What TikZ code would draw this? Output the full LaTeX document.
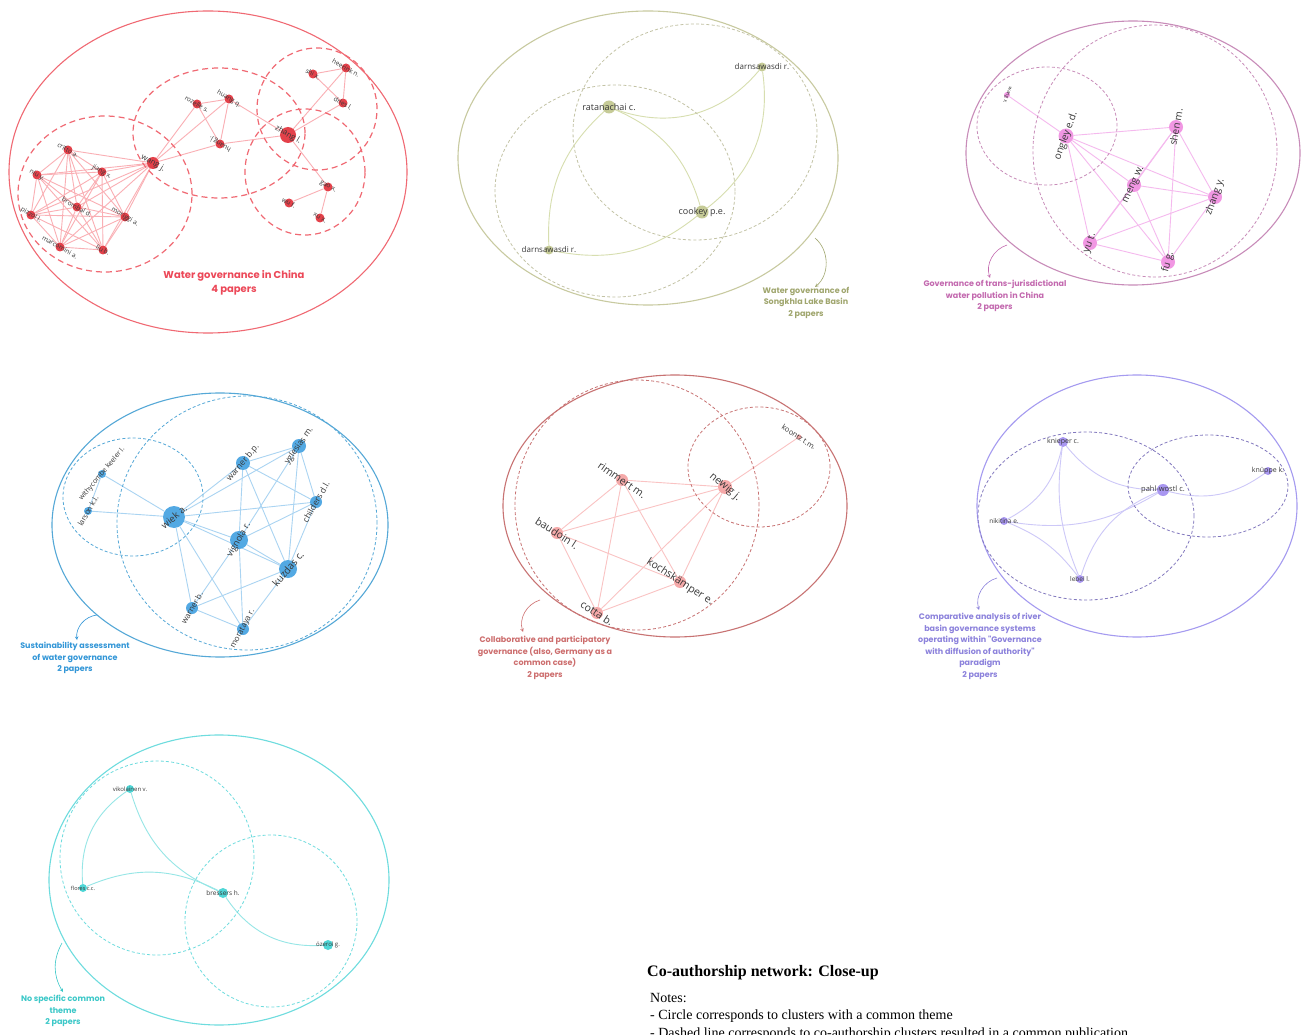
\documentclass[tikz,border=0pt]{standalone}
\usepackage{fontspec}
\setmainfont{Liberation Serif}
\setsansfont{Open Sans}
\newfontfamily\capfont{Poppins}
\usetikzlibrary{arrows}

\definecolor{redTheme}{RGB}{240,105,115}
\definecolor{redNode}{RGB}{226,45,55}
\definecolor{redEdge}{RGB}{250,175,180}
\definecolor{redText}{RGB}{236,72,88}
\definecolor{oliveTheme}{RGB}{200,202,160}
\definecolor{oliveDash}{RGB}{195,195,165}
\definecolor{oliveNode}{RGB}{192,198,140}
\definecolor{oliveEdge}{RGB}{215,222,175}
\definecolor{oliveText}{RGB}{160,166,110}
\definecolor{pinkTheme}{RGB}{200,140,185}
\definecolor{pinkNode}{RGB}{240,140,225}
\definecolor{pinkEdge}{RGB}{245,185,238}
\definecolor{pinkText}{RGB}{195,105,175}
\definecolor{blueTheme}{RGB}{85,168,215}
\definecolor{blueNode}{RGB}{65,160,225}
\definecolor{blueEdge}{RGB}{170,212,242}
\definecolor{blueText}{RGB}{50,150,215}
\definecolor{roseTheme}{RGB}{200,115,115}
\definecolor{roseNode}{RGB}{245,160,160}
\definecolor{roseEdge}{RGB}{250,195,195}
\definecolor{roseText}{RGB}{205,110,110}
\definecolor{violetTheme}{RGB}{165,155,240}
\definecolor{violetDash}{RGB}{130,120,190}
\definecolor{violetNode}{RGB}{160,140,240}
\definecolor{violetEdge}{RGB}{205,200,248}
\definecolor{violetText}{RGB}{140,130,220}
\definecolor{cyanTheme}{RGB}{110,220,222}
\definecolor{cyanNode}{RGB}{60,210,210}
\definecolor{cyanEdge}{RGB}{150,230,230}
\definecolor{cyanText}{RGB}{60,200,200}

\pgfdeclarelayer{paper}
\pgfdeclarelayer{edges}
\pgfsetlayers{paper,edges,main}

\tikzset{
	aunode/.style={circle, inner sep=0pt, minimum size=#1, draw=none, fill opacity=0.9},
	aulabel/.style={text=black!78, inner sep=0pt},
}
\newcommand\fs[1]{\fontsize{#1}{#1}\selectfont}
% name, position, size, colour, angle, font size, text
\newcommand\au[7]{%
	\node[aunode=#3pt, fill=#4] (#1) at (#2) {};
	\node[aulabel, rotate=#5] (#1-t) at (#2) {\sffamily\fs{#6}#7};}

\begin{document}
\begin{tikzpicture}[x=1pt, y=-1pt,
	themering/.style={line width=1.1pt},
	paperring/.style={line width=0.8pt, dash pattern=on 3pt off 2.2pt},
	coauth/.style={line width=0.9pt},
	capnote/.style={align=center, anchor=north, inner sep=0pt, font=\capfont\bfseries\fontsize{8}{11.5}\selectfont},
	pointer/.style={-stealth, line width=0.6pt}]
	\begin{pgfonlayer}{paper}
	\fill[white] (0,0) rectangle (1310,1035);
	\end{pgfonlayer}
	\clip (0,0) rectangle (1310,1035);

	% water governance in China
	\draw[themering, redTheme] (208,172) ellipse [x radius=199pt, y radius=161pt];
	\draw[redTheme, line width=1.2pt, dash pattern=on 6pt off 4pt] (105,194) ellipse [x radius=87pt, y radius=78pt];
	\draw[redTheme, line width=1.2pt, dash pattern=on 6pt off 4pt] (219,133) ellipse [x radius=86pt, y radius=65pt];
	\draw[redTheme, line width=1.2pt, dash pattern=on 6pt off 4pt] (317,109) ellipse [x radius=60pt, y radius=61pt];
	\draw[redTheme, line width=1.2pt, dash pattern=on 6pt off 4pt] (305,172) ellipse [x radius=60pt, y radius=63pt];
	\au{critto}{68,150}{9}{redNode}{-30}{6.5}{critto a.}
	\au{niu}{37,175}{9}{redNode}{-30}{6.5}{niu y.}
	\au{jiang}{102,172}{9}{redNode}{-30}{6.5}{jiang x.}
	\au{brombal}{77,207}{9}{redNode}{-30}{6.5}{brombal d.}
	\au{moriggi}{125,217}{9}{redNode}{-30}{6.5}{moriggi a.}
	\au{pizzol}{31,215}{9}{redNode}{-30}{6.5}{pizzol l.}
	\au{marcomini}{60,247}{9}{redNode}{-30}{6.5}{marcomini a.}
	\au{liub}{103,250}{9}{redNode}{-30}{6.5}{liu b.}
	\au{wangj}{153,163}{12}{redNode}{-30}{8}{wang j.}
	\au{rozelle}{197,104}{9}{redNode}{-30}{6.5}{rozelle s.}
	\au{huangq}{229,99}{9}{redNode}{-30}{6.5}{huang q.}
	\au{huangj}{220,144}{9}{redNode}{150}{6.5}{huang j.}
	\au{zhangl}{288,135}{16}{redNode}{-30}{8}{zhang l.}
	\au{heerink}{346,68}{9}{redNode}{-30}{6.5}{heerink n.}
	\au{shix}{313,74}{9}{redNode}{-30}{6.5}{shi x.}
	\au{dries}{343,103}{9}{redNode}{-30}{6.5}{dries l.}
	\au{gaox}{328,187}{9}{redNode}{-30}{6.5}{gao x.}
	\au{wuf}{289,203}{9}{redNode}{-30}{6.5}{wu f.}
	\au{xux}{320,218}{9}{redNode}{-30}{6.5}{xu x.}
	\begin{pgfonlayer}{edges}
	\foreach \a [count=\i] in {wangj,critto,niu,jiang,brombal,moriggi,pizzol,marcomini,liub}
		\foreach \b [count=\j] in {wangj,critto,niu,jiang,brombal,moriggi,pizzol,marcomini,liub}
			{\ifnum\j>\i \draw[coauth, redEdge] (\a) -- (\b); \fi}
	\foreach \a/\b in {wangj/rozelle, wangj/huangq, wangj/huangj, rozelle/huangq, rozelle/huangj,
		huangq/huangj, huangq/zhangl, huangj/zhangl, zhangl/heerink, zhangl/dries, shix/heerink,
		shix/dries, heerink/dries, zhangl/gaox, gaox/wuf, gaox/xux}
		\draw[coauth, redEdge] (\a) -- (\b);
	\end{pgfonlayer}
	\node[align=center, inner sep=0pt, text=redText, font=\capfont\bfseries\fontsize{10}{14}\selectfont] (china-cap) at (234,283) {Water governance in China\\4 papers};

	% Songkhla Lake Basin
	\draw[themering, oliveTheme] (648,158) ellipse [x radius=190pt, y radius=147pt];
	\draw[paperring, oliveDash] (695,132) ellipse [x radius=122pt, y radius=108pt];
	\draw[paperring, oliveDash] (615,191) ellipse [x radius=120pt, y radius=106pt];
	\au{ratanachai}{609,107}{13}{oliveNode}{0}{9}{ratanachai c.}
	\au{cookey}{702,212}{13}{oliveNode}{0}{9}{cookey p.e.}
	\au{darnA}{762,67}{9}{oliveNode}{0}{8}{darnsawasdi r.}
	\au{darnB}{549,250}{9}{oliveNode}{0}{8}{darnsawasdi r.}
	\begin{pgfonlayer}{edges}
	\draw[coauth, oliveEdge] (ratanachai) to[bend right=35] (darnA);
	\draw[coauth, oliveEdge] (ratanachai) to[bend right=25] (darnB);
	\draw[coauth, oliveEdge] (ratanachai) to[bend left=25] (cookey);
	\draw[coauth, oliveEdge] (cookey) to[bend right=30] (darnA);
	\draw[coauth, oliveEdge] (cookey) to[bend left=25] (darnB);
	\end{pgfonlayer}
	\coordinate (songkhla-from) at (815,238);
	\node[capnote, text=oliveText] (songkhla-cap) at (806,287) {Water governance of\\Songkhla Lake Basin\\2 papers};
	\draw[pointer, oliveText] (songkhla-from) to[bend left=50] (songkhla-cap.north -| songkhla-from);

	% trans-jurisdictional water pollution
	\draw[themering, pinkTheme] (1133,153) ellipse [x radius=167pt, y radius=132pt];
	\draw[paperring, pinkTheme] (1155,151) ellipse [x radius=122pt, y radius=126pt];
	\draw[paperring, pinkTheme] (1047,126) ellipse [x radius=70pt, y radius=59pt];
	\au{wangx}{1007,95}{6}{pinkNode}{-110}{5}{wang x.}
	\au{ongley}{1066,136}{15}{pinkNode}{70}{10}{ongley e.d.}
	\au{shen}{1176,127}{14}{pinkNode}{80}{10}{shen m.}
	\au{meng}{1134,185}{14}{pinkNode}{65}{10}{meng w.}
	\au{zhangy}{1215,197}{14}{pinkNode}{70}{10}{zhang y.}
	\au{yut}{1090,243}{14}{pinkNode}{70}{10}{yu t.}
	\au{fug}{1168,262}{14}{pinkNode}{75}{10}{fu g.}
	\begin{pgfonlayer}{edges}
	\draw[coauth, pinkEdge] (wangx) -- (ongley);
	\foreach \a [count=\i] in {ongley,shen,meng,zhangy,yut,fug}
		\foreach \b [count=\j] in {ongley,shen,meng,zhangy,yut,fug}
			{\ifnum\j>\i \draw[coauth, pinkEdge] (\a) -- (\b); \fi}
	\end{pgfonlayer}
	\coordinate (pollution-from) at (1007,245);
	\node[capnote, text=pinkText] (pollution-cap) at (995,280) {Governance of trans-jurisdictional\\water pollution in China\\2 papers};
	\draw[pointer, pinkText] (pollution-from) to[bend right=45] (990,278);

	% sustainability assessment
	\draw[themering, blueTheme] (220,525) ellipse [x radius=168pt, y radius=132pt];
	\draw[paperring, blueTheme] (247,523) ellipse [x radius=130pt, y radius=127pt];
	\draw[paperring, blueTheme] (133,497) ellipse [x radius=70pt, y radius=59pt];
	\au{withy}{102,474}{8}{blueNode}{50}{7}{withycombe keeler l.}
	\au{larson}{88,511}{8}{blueNode}{60}{7.5}{larson k.l.}
	\au{wiek}{174,517}{22}{blueNode}{40}{9.5}{wiek a.}
	\au{warnerbp}{243,463}{14}{blueNode}{50}{8.5}{warner b.p.}
	\au{yglesias}{299,446}{14}{blueNode}{55}{8.5}{yglesias m.}
	\au{childers}{316,502}{12}{blueNode}{60}{8.5}{childers d.l.}
	\au{vignola}{239,540}{18}{blueNode}{60}{9}{vignola r.}
	\au{kuzdas}{288,569}{18}{blueNode}{50}{10}{kuzdas c.}
	\au{warnerb}{192,608}{12}{blueNode}{60}{8}{warner b.}
	\au{morataya}{243,629}{12}{blueNode}{62}{8}{morataya r.}
	\begin{pgfonlayer}{edges}
	\foreach \a/\b in {withy/wiek, withy/larson, larson/wiek, wiek/warnerbp, wiek/yglesias,
		wiek/childers, wiek/vignola, wiek/kuzdas, wiek/warnerb, wiek/morataya, warnerbp/yglesias,
		warnerbp/vignola, warnerbp/kuzdas, warnerbp/childers, yglesias/vignola, yglesias/kuzdas,
		yglesias/childers, childers/vignola, childers/kuzdas, vignola/kuzdas, vignola/warnerb,
		vignola/morataya, kuzdas/warnerb, kuzdas/morataya, warnerb/morataya}
		\draw[coauth, blueEdge] (\a) -- (\b);
	\end{pgfonlayer}
	\coordinate (sustain-from) at (97,615);
	\node[capnote, text=blueText] (sustain-cap) at (75,642) {Sustainability assessment\\of water governance\\2 papers};
	\draw[pointer, blueText] (sustain-from) to[bend right=45] (77,640);

	% collaborative and participatory governance
	\draw[themering, roseTheme] (675,506) ellipse [x radius=172pt, y radius=131pt];
	\draw[paperring, roseTheme] (637,505) ellipse [x radius=122pt, y radius=125pt];
	\draw[paperring, roseTheme] (759,467) ellipse [x radius=71pt, y radius=60pt];
	\au{koontz}{799,437}{5}{roseNode}{-33}{7.5}{koontz t.m.}
	\au{rimmert}{622,480}{12}{roseNode}{-35}{10.5}{rimmert m.}
	\au{newig}{725,487}{14}{roseNode}{-40}{10.5}{newig j.}
	\au{baudoin}{557,533}{12}{roseNode}{-33}{10.5}{baudoin l.}
	\au{kochs}{680,582}{12}{roseNode}{-33}{10.5}{kochskämper e.}
	\au{cotta}{597,613}{12}{roseNode}{-33}{10.5}{cotta b.}
	\begin{pgfonlayer}{edges}
	\draw[coauth, roseEdge] (koontz) -- (newig);
	\foreach \a [count=\i] in {rimmert,newig,baudoin,kochs,cotta}
		\foreach \b [count=\j] in {rimmert,newig,baudoin,kochs,cotta}
			{\ifnum\j>\i \draw[coauth, roseEdge] (\a) -- (\b); \fi}
	\end{pgfonlayer}
	\coordinate (collab-from) at (540,600);
	\node[capnote, text=roseText] (collab-cap) at (545,636) {Collaborative and participatory\\governance (also, Germany as a\\common case)\\2 papers};
	\draw[pointer, roseText] (collab-from) to[bend right=45] (523,632);

	% river basin governance systems
	\draw[themering, violetTheme] (1137,506) ellipse [x radius=160pt, y radius=131pt];
	\draw[paperring, violetDash] (1086,516) ellipse [x radius=108pt, y radius=84pt];
	\draw[paperring, violetDash] (1208,486) ellipse [x radius=80pt, y radius=51pt];
	\au{knieper}{1063,442}{10}{violetNode}{0}{7}{knieper c.}
	\au{knuppe}{1268,471}{8}{violetNode}{0}{7}{knüppe k.}
	\au{pahl}{1163,490}{12}{violetNode}{0}{7.5}{pahl-wostl c.}
	\au{nikitina}{1004,521}{8}{violetNode}{0}{6.5}{nikitina e.}
	\au{lebel}{1080,579}{8}{violetNode}{0}{6.5}{lebel l.}
	\begin{pgfonlayer}{edges}
	\draw[coauth, violetEdge] (knieper) to[bend right=25] (pahl);
	\draw[coauth, violetEdge] (knieper) to[bend left=25] (nikitina);
	\draw[coauth, violetEdge] (knieper) to[bend right=15] (lebel);
	\draw[coauth, violetEdge] (nikitina) to[bend left=15] (lebel);
	\draw[coauth, violetEdge] (nikitina) to[bend right=20] (pahl);
	\draw[coauth, violetEdge] (lebel) to[bend left=25] (pahl);
	\draw[coauth, violetEdge] (pahl) to[bend right=25] (knuppe);
	\end{pgfonlayer}
	\coordinate (basin-from) at (997,578);
	\node[capnote, text=violetText] (basin-cap) at (980,613) {Comparative analysis of river\\basin governance systems\\operating within "Governance\\with diffusion of authority"\\paradigm\\2 papers};
	\draw[pointer, violetText] (basin-from) to[bend right=45] (979,610);

	% no specific common theme
	\draw[themering, cyanTheme] (219,880) ellipse [x radius=170pt, y radius=145pt];
	\draw[paperring, cyanTheme] (157,858) ellipse [x radius=97pt, y radius=97pt];
	\draw[paperring, cyanTheme] (271,921) ellipse [x radius=86pt, y radius=86pt];
	\au{vikolainen}{130,789}{8}{cyanNode}{0}{6}{vikolainen v.}
	\au{flores}{83,888}{8}{cyanNode}{0}{5.5}{flores c.c.}
	\au{bressers}{223,893}{10}{cyanNode}{0}{6.5}{bressers h.}
	\au{ozerol}{328,945}{10}{cyanNode}{0}{6}{özerol g.}
	\begin{pgfonlayer}{edges}
	\draw[coauth, cyanEdge] (vikolainen) to[bend right=30] (flores);
	\draw[coauth, cyanEdge] (vikolainen) to[bend right=25] (bressers);
	\draw[coauth, cyanEdge] (flores) to[bend left=25] (bressers);
	\draw[coauth, cyanEdge] (bressers) to[bend right=30] (ozerol);
	\end{pgfonlayer}
	\coordinate (none-from) at (62,943);
	\node[capnote, text=cyanText] (none-cap) at (63,995) {No specific common\\theme\\2 papers};
	\draw[pointer, cyanText] (none-from) to[bend right=30] (63,992);

	% title and notes
	\node[anchor=base west, inner sep=0pt, font=\bfseries\fs{16}] (title) at (647,976) {Co-authorship network: Close-up};
	\node[anchor=base west, inner sep=0pt, font=\fs{14}] (notes) at (650,1002) {Notes:};
	\node[anchor=base west, inner sep=0pt, font=\fs{14}] (note-a) at (650,1019) {- Circle corresponds to clusters with a common theme};
	\node[anchor=base west, inner sep=0pt, font=\fs{14}] (note-b) at (650,1037) {- Dashed line corresponds to co-authorship clusters resulted in a common publication};
\end{tikzpicture}
\end{document}
